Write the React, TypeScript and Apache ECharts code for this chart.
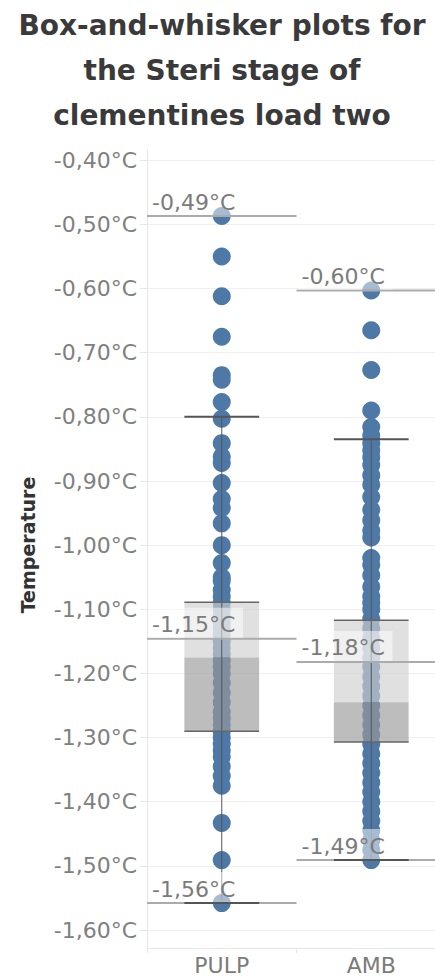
import React, { useEffect, useRef } from "react";
import * as echarts from "echarts";

const categories = ["PULP", "AMB"];

const pulpValues = [
  -0.487, -0.55, -0.612, -0.675, -0.735, -0.742, -0.777, -0.803, -0.841, -0.862,
  -0.872, -0.903, -0.928, -0.942, -0.966, -1.0, -1.028, -1.05, -1.056, -1.07,
  -1.08, -1.09, -1.1, -1.11, -1.12, -1.13, -1.14, -1.15, -1.16, -1.17,
  -1.18, -1.19, -1.2, -1.215, -1.23, -1.245, -1.26, -1.27, -1.28, -1.29,
  -1.3, -1.31, -1.32, -1.33, -1.345, -1.36, -1.375, -1.433, -1.491, -1.558,
];

const ambValues = [
  -0.603, -0.665, -0.727, -0.79, -0.816, -0.829, -0.841, -0.852, -0.863, -0.875,
  -0.891, -0.906, -0.925, -0.945, -0.961, -0.977, -0.988, -1.02, -1.031, -1.047,
  -1.065, -1.08, -1.09, -1.1, -1.115, -1.13, -1.145, -1.16, -1.175, -1.19,
  -1.205, -1.22, -1.235, -1.25, -1.265, -1.28, -1.295, -1.31, -1.325, -1.34,
  -1.355, -1.37, -1.385, -1.4, -1.415, -1.43, -1.445, -1.46, -1.475, -1.491,
];

// [lower whisker, Q1, median, Q3, upper whisker]
const boxStats = [
  [-1.558, -1.29, -1.175, -1.089, -0.8],
  [-1.491, -1.307, -1.245, -1.117, -0.835],
];
const refMin = [-1.558, -1.491];
const refMax = [-0.487, -0.603];
const refMean = [-1.146, -1.182];

const yTicks = [-1.6, -1.5, -1.4, -1.3, -1.2, -1.1, -1.0, -0.9, -0.8, -0.7, -0.6, -0.5, -0.4];
const yMin = -1.628;
const yMax = -0.384;

const fmt = (v: number) => v.toFixed(2).replace(".", ",") + "°C";

const FONT = "DejaVu Sans";

export default function App() {
  const ref = useRef<HTMLDivElement>(null);
  useEffect(() => {
    if (!ref.current) return;
    const chart = echarts.init(ref.current, null, { renderer: "svg" });

    const scatterData: any[] = [];
    pulpValues.forEach((v) => scatterData.push([0, v]));
    ambValues.forEach((v) => scatterData.push([1, v]));

    const boxData = categories.map((_, i) => [
      i,
      ...boxStats[i],
      refMin[i],
      refMax[i],
      refMean[i],
    ]);

    const renderItem = (params: any, api: any) => {
      const idx = api.value(0);
      const band = api.size([1, 0])[0];
      const cx = api.coord([idx, 0])[0];
      const y = (v: number) => api.coord([idx, v])[1];
      const lw = api.value(1), q1 = api.value(2), med = api.value(3), q3 = api.value(4), uw = api.value(5);
      const mn = api.value(6), mx = api.value(7), mean = api.value(8);
      const bw = band * 0.5;
      const bl = cx - bw / 2;
      const left = cx - band / 2;
      const children: any[] = [];
      children.push({
        type: "rect",
        shape: { x: bl, y: y(q3), width: bw, height: y(med) - y(q3) },
        style: { fill: "rgba(208,208,208,0.65)" },
      });
      children.push({
        type: "rect",
        shape: { x: bl, y: y(med), width: bw, height: y(q1) - y(med) },
        style: { fill: "rgba(154,154,154,0.65)" },
      });
      children.push({
        type: "line",
        shape: { x1: cx, y1: y(uw), x2: cx, y2: y(lw) },
        style: { stroke: "#555555", lineWidth: 1 },
      });
      [q3, q1].forEach((v) =>
        children.push({
          type: "line",
          shape: { x1: bl, y1: y(v), x2: bl + bw, y2: y(v) },
          style: { stroke: "#666666", lineWidth: 1.5 },
        })
      );
      [mx, mean, mn].forEach((v) =>
        children.push({
          type: "line",
          shape: { x1: left, y1: y(v), x2: left + band, y2: y(v) },
          style: { stroke: "#ababab", lineWidth: 2 },
        })
      );
      [uw, lw].forEach((v) =>
        children.push({
          type: "line",
          shape: { x1: bl, y1: y(v), x2: bl + bw, y2: y(v) },
          style: { stroke: "#555555", lineWidth: 2 },
        })
      );
      [mx, mean, mn].forEach((v) => {
        children.push({
          type: "rect",
          shape: { x: left + 1, y: y(v) - 31, width: 95, height: 30 },
          style: { fill: "rgba(255,255,255,0.5)" },
        });
        children.push({
          type: "text",
          x: left + 5,
          y: y(v) - 3,
          style: {
            text: fmt(v),
            font: `22px '${FONT}'`,
            fill: "#7b7b7b",
            textAlign: "left",
            textVerticalAlign: "bottom",
          },
        });
      });
      return { type: "group", children };
    };

    chart.setOption({
      animation: false,
      backgroundColor: "#ffffff",
      graphic: [
        {
          type: "text",
          x: 222,
          y: 3,
          style: {
            text: "Box-and-whisker plots for\nthe Steri stage of\nclementines load two",
            font: `bold 28px '${FONT}'`,
            fill: "#3a3a3a",
            textAlign: "center",
            lineHeight: 45,
          },
        },
        {
          type: "text",
          x: 28,
          y: 545,
          rotation: Math.PI / 2,
          style: {
            text: "Temperature",
            font: `bold 19px '${FONT}'`,
            fill: "#333333",
            textAlign: "center",
            textVerticalAlign: "middle",
          },
        },
      ],
      grid: { left: 147, right: 0, top: 150, bottom: 30 },
      xAxis: {
        type: "category",
        data: categories,
        axisLine: { show: true, lineStyle: { color: "#e6e6e6", width: 1 } },
        axisTick: { show: true, alignWithLabel: false, length: 5, lineStyle: { color: "#e6e6e6" } },
        axisLabel: { color: "#7b7b7b", fontFamily: FONT, fontSize: 22, margin: 4, lineHeight: 26 },
        splitLine: { show: false },
      },
      yAxis: {
        type: "value",
        min: yMin,
        max: yMax,
        axisLine: { show: true, lineStyle: { color: "#e6e6e6", width: 1 } },
        axisTick: { show: true, length: 7, customValues: yTicks, lineStyle: { color: "#e6e6e6" } },
        axisLabel: {
          customValues: yTicks,
          color: "#808080",
          fontFamily: FONT,
          fontSize: 22,
          margin: 10,
          formatter: (v: number) => fmt(v),
        },
        splitLine: { show: true, lineStyle: { color: "#efefef", width: 1 } },
      },
      series: [
        {
          type: "scatter",
          data: scatterData,
          symbolSize: 18,
          itemStyle: { color: "#4e79a7", opacity: 1 },
          z: 2,
        },
        {
          type: "custom",
          data: boxData,
          encode: { x: 0, y: [1, 2, 3, 4, 5, 6, 7, 8] },
          renderItem,
          z: 3,
          clip: false,
        },
      ],
    });
    return () => chart.dispose();
  }, []);

  return (
    <div
      style={{
        position: "fixed",
        left: 0,
        top: 0,
        width: 435,
        height: 978,
        overflow: "hidden",
        background: "#fff",
      }}
    >
      <div ref={ref} style={{ width: 446, height: 978 }} />
    </div>
  );
}
